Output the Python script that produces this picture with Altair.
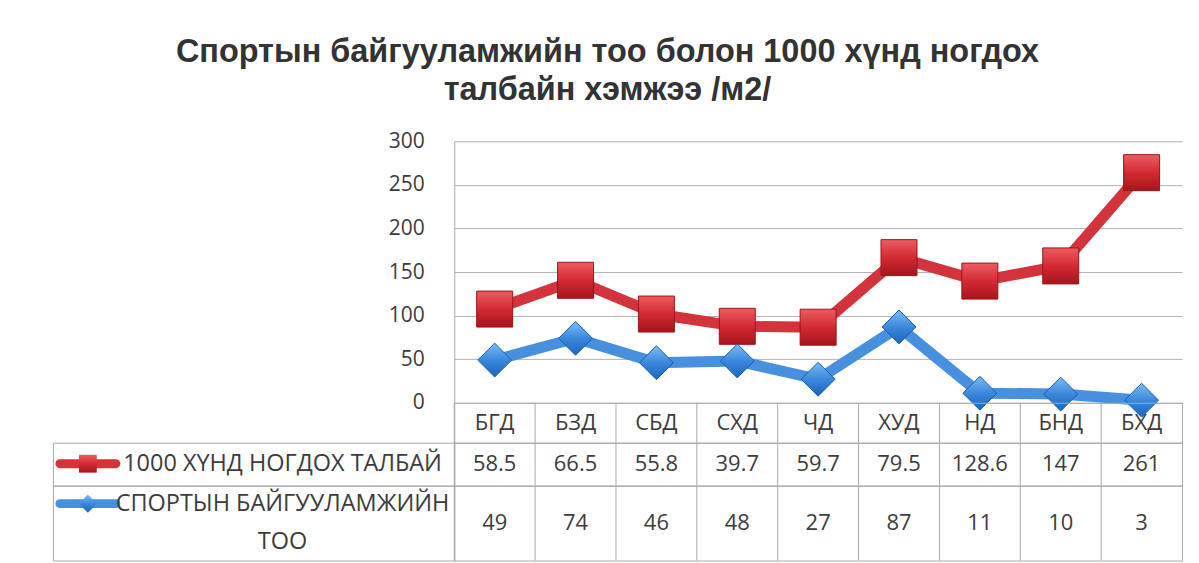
import altair as alt
import pandas as pd

# ---- data ----
categories = ["БГД", "БЗД", "СБД", "СХД", "ЧД", "ХУД", "НД", "БНД", "БХД"]
area_per_1000 = [58.5, 66.5, 55.8, 39.7, 59.7, 79.5, 128.6, 147, 261]
facility_count = [49, 74, 46, 48, 27, 87, 11, 10, 3]
series_names = ["1000 ХҮНД НОГДОХ ТАЛБАЙ", "СПОРТЫН БАЙГУУЛАМЖИЙН ТОО"]
y_ticks = [0, 50, 100, 150, 200, 250, 300]
title_lines = ["Спортын байгууламжийн тоо болон 1000 хүнд ногдох", "талбайн хэмжээ /м2/"]

# ---- styling ----
RED = "#d3343c"
BLUE = "#4690de"
GRID = "#b2b2b2"
BORDER = "#a9a9a9"
TXT = "#3c3c3c"
FONT = "Open Sans"
FS = 22

PLOT_W, PLOT_H = 729, 262
LEG_W = 402
HEAD_H, ROW1_H, ROW2_H = 40, 43, 75

RED_GRAD = {"gradient": "linear", "x1": 0, "y1": 0, "x2": 0, "y2": 1,
            "stops": [{"offset": 0, "color": "#ee5c62"}, {"offset": 0.5, "color": "#d22a32"},
                      {"offset": 1, "color": "#a8141b"}]}
BLUE_GRAD = {"gradient": "linear", "x1": 0, "y1": 0, "x2": 0, "y2": 1,
             "stops": [{"offset": 0, "color": "#7cbcf4"}, {"offset": 0.5, "color": "#3b88dc"},
                       {"offset": 1, "color": "#1d64bf"}]}

long_df = pd.DataFrame({
    "cat": categories * 2,
    "series": [series_names[1]] * len(categories) + [series_names[0]] * len(categories),
    "s": [0] * len(categories) + [1] * len(categories),
    "value": facility_count + area_per_1000,
})

x_point = alt.X("cat:N", sort=categories, scale=alt.Scale(type="point", padding=0.5), axis=None)
y_enc = alt.Y("v1:Q", scale=alt.Scale(domain=[0, 300], nice=False, zero=True),
              axis=alt.Axis(values=y_ticks, title=None, grid=True, gridColor=GRID, gridWidth=1,
                            domain=True, domainColor=BORDER, ticks=False, tickSize=0,
                            labelPadding=30, labelFont=FONT, labelFontSize=21, labelColor=TXT))
color_enc = alt.Color("series:N", scale=alt.Scale(domain=series_names, range=[RED, BLUE]), legend=None)

stacked = alt.Chart(long_df).transform_stack(
    stack="value", groupby=["cat"], as_=["v0", "v1"], sort=[alt.SortField("s", order="ascending")]
)

lines = stacked.mark_line(strokeWidth=11, strokeCap="round", strokeJoin="round").encode(
    x=x_point, y=y_enc, color=color_enc
)
red_pts = stacked.transform_filter(alt.datum.s == 1).mark_point(
    shape="square", filled=True, size=1300, fill=RED_GRAD, stroke="#9a161c", strokeWidth=1, opacity=1
).encode(x=x_point, y=y_enc)
blue_pts = stacked.transform_filter(alt.datum.s == 0).mark_point(
    shape="diamond", filled=True, size=1150, fill=BLUE_GRAD, stroke="#1a5cb0", strokeWidth=1, opacity=1
).encode(x=x_point, y=y_enc)

main = alt.layer(lines, red_pts, blue_pts).properties(
    width=PLOT_W, height=PLOT_H, view=alt.ViewBackground(stroke=None)
)

one = pd.DataFrame({"v": [0]})


def blank(h):
    return alt.Chart(one).mark_point(opacity=0).properties(
        width=LEG_W, height=h, view=alt.ViewBackground(stroke=None)
    )


def fmt(v):
    return f"{v:g}"


band = alt.Scale(type="band", paddingInner=0, paddingOuter=0)


def table_row(labels, h):
    df = pd.DataFrame({"cat": categories, "label": labels})
    rules = alt.Chart(df).mark_rule(color=BORDER, strokeWidth=1).encode(
        x=alt.X("cat:N", sort=categories, scale=band, axis=None, bandPosition=0)
    )
    texts = alt.Chart(df).mark_text(font=FONT, fontSize=FS, color=TXT, baseline="middle").encode(
        x=alt.X("cat:N", sort=categories, scale=band, axis=None, bandPosition=0.5),
        text="label:N",
    )
    return alt.layer(rules, texts).properties(
        width=PLOT_W, height=h, view=alt.ViewBackground(stroke=BORDER)
    )


def legend_cell(color, shape, msize, grad, text, h, y_line):
    sym_line = alt.Chart(one).mark_rule(color=color, strokeWidth=9, strokeCap="round").encode(
        x=alt.value(7), x2=alt.value(63), y=alt.value(y_line)
    )
    sym = alt.Chart(one).mark_point(shape=shape, filled=True, size=msize, fill=grad, opacity=1).encode(
        x=alt.value(35), y=alt.value(y_line)
    )
    lab = alt.Chart(one).mark_text(font=FONT, fontSize=23.5, color=TXT, align="center",
                                   baseline="middle", lineHeight=38).encode(
        x=alt.value(230), y=alt.value(y_line), text=alt.value(text)
    )
    return alt.layer(sym_line, sym, lab).properties(
        width=LEG_W, height=h, view=alt.ViewBackground(stroke=BORDER)
    )


head_row = table_row(categories, HEAD_H)
red_row = table_row([fmt(v) for v in area_per_1000], ROW1_H)
blue_row = table_row([fmt(v) for v in facility_count], ROW2_H)

red_leg = legend_cell(RED, "square", 320, RED_GRAD, series_names[0], ROW1_H, 21)
blue_leg = legend_cell(BLUE, "diamond", 340, BLUE_GRAD, series_names[1].rsplit(" ", 1), ROW2_H, 18)

chart = alt.concat(
    blank(PLOT_H), main,
    blank(HEAD_H), head_row,
    red_leg, red_row,
    blue_leg, blue_row,
    columns=2, spacing=0, bounds="flush",
).properties(
    title=alt.TitleParams(title_lines, font="Liberation Sans", fontSize=32.5, fontWeight="bold",
                          color="#333333", anchor="middle", lineHeight=38, offset=24, dx=-10),
    padding={"left": 44, "top": 27, "right": 8, "bottom": 0},
).configure(background="white")

chart.save("out.html", embed_options={"renderer": "svg", "actions": False})
